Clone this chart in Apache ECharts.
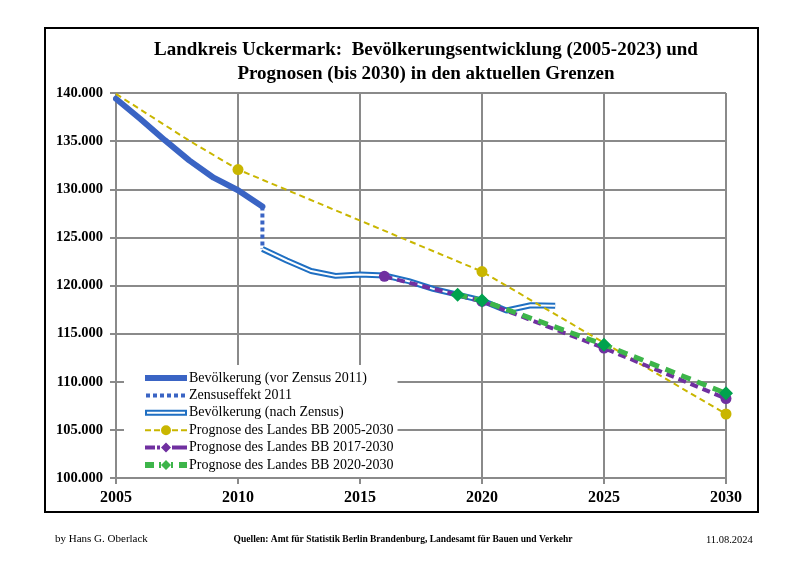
<!DOCTYPE html>
<html>
<head>
<meta charset="utf-8">
<script src="https://cdn.jsdelivr.net/npm/echarts@6/dist/echarts.min.js"></script>
<style>
html,body{margin:0;padding:0;background:#fff;}
#frame{position:absolute;left:44px;top:27px;width:711px;height:482px;border:2px solid #000;box-sizing:content-box;}
#chart{position:absolute;left:0;top:0;width:800px;height:566px;}
</style>
</head>
<body>
<div id="frame"></div>
<div id="chart"></div>
<script>
// ---- data ----
const titleLines = ["Landkreis Uckermark:  Bevölkerungsentwicklung (2005-2023) und", "Prognosen (bis 2030) in den aktuellen Grenzen"];
const seriesNames = [
  "Bevölkerung (vor Zensus 2011)",
  "Zensuseffekt 2011",
  "Bevölkerung (nach Zensus)",
  "Prognose des Landes BB 2005-2030",
  "Prognose des Landes BB 2017-2030",
  "Prognose des Landes BB 2020-2030"
];
const yearsVor = [2005, 2006, 2007, 2008, 2009, 2010, 2011];
const popVor = [139400, 137300, 135100, 133000, 131200, 129900, 128200];
const yearsZensus = [2011, 2011];
const popZensus = [128200, 123800];
const yearsNach = [2011, 2012, 2013, 2014, 2015, 2016, 2017, 2018, 2019, 2020, 2021, 2022, 2023];
const popNach = [123800, 122600, 121500, 121000, 121150, 121050, 120450, 119650, 119050, 118450, 117400, 117950, 117900];
const yearsP2005 = [2005, 2008, 2010, 2020, 2030];
const popP2005 = [139900, 135050, 132050, 121450, 106650];
const markP2005 = [false, false, true, true, true];
const yearsP2017 = [2016, 2020, 2025, 2030];
const popP2017 = [120950, 118350, 113500, 108250];
const yearsP2020 = [2019, 2020, 2025, 2030];
const popP2020 = [119050, 118440, 113850, 108800];
const yAxisMin = 100000, yAxisMax = 140000, yStep = 5000;
const xAxisMin = 2005, xAxisMax = 2030, xStep = 5;
const footerLeft = "by Hans G. Oberlack";
const footerCenter = "Quellen: Amt für Statistik Berlin Brandenburg, Landesamt für Bauen und Verkehr";
const footerRight = "11.08.2024";

const zip = (xs, ys) => xs.map((x, i) => [x, ys[i]]);
const FONT = "Liberation Serif";
const fmt = v => String(v).replace(/\B(?=(\d{3})+(?!\d))/g, ".");

const cBlue = "#3a64c4", cBlue2 = "#1f6fc2", cYellow = "#c9b600", cPurple = "#7030a0", cGreen = "#3db54a", cGreenDk = "#00a24e";

// legend icon shapes (42 wide)
const circ = (cx, cy, r) => `M${cx - r} ${cy} A${r} ${r} 0 1 0 ${cx + r} ${cy} A${r} ${r} 0 1 0 ${cx - r} ${cy} Z`;
const iconThick = "path://M0 0 H42 V6 H0 Z";
const iconDotted = "path://" + [0, 7, 14, 21, 28, 35].map(x => `M${x + 1} 0 H${x + 5} V4 H${x + 1} Z`).join(" ") + " M0 0 H0.01 V4 H0 Z M41.99 0 H42 V4 H41.99 Z";
const iconDouble = "path://M0 0 H42 V6 H0 Z M2 2 V4 H40 V2 Z";
const iconYellow = "path://M0 4 H6 V6 H0 Z M9 4 H15 V6 H9 Z M27 4 H33 V6 H27 Z M36 4 H42 V6 H36 Z " + circ(21, 5, 5);
const iconPurple = "path://M0 3 H10 V7 H0 Z M30 3 H42 V7 H30 Z M12 3 H15 V7 H12 Z M27 3 H30 V7 H27 Z M21 0 L26 5 L21 10 L16 5 Z";
const iconGreen = "path://M0 2 H9 V8 H0 Z M14 2 H16 V8 H14 Z M26 2 H28 V8 H26 Z M34 2 H42 V8 H34 Z M21 0 L26 5 L21 10 L16 5 Z";

const chart = echarts.init(document.getElementById("chart"), null, {renderer: "canvas"});
chart.setOption({
  animation: false,
  backgroundColor: "transparent",
  title: [
    {text: titleLines.join("\n"), left: 421, top: 33, textAlign: "center",
     textStyle: {fontFamily: FONT, fontWeight: "bold", fontSize: 19, lineHeight: 24, color: "#000"}},
    {text: footerLeft, left: 50, top: 529, textStyle: {fontFamily: FONT, fontWeight: "normal", fontSize: 11, color: "#000"}},
    {text: footerCenter, left: 398, top: 530, textAlign: "center", textStyle: {fontFamily: FONT, fontWeight: "bold", fontSize: 9.5, color: "#000"}},
    {text: footerRight, left: 701, top: 530, textStyle: {fontFamily: FONT, fontWeight: "normal", fontSize: 10.5, color: "#000"}}
  ],
  grid: {left: 116, top: 93, right: 74, bottom: 88, containLabel: false},
  xAxis: {
    type: "value", min: xAxisMin, max: xAxisMax, interval: xStep,
    axisLine: {show: true, lineStyle: {color: "#8a8a8a", width: 2}},
    axisTick: {show: true, length: 6, lineStyle: {color: "#8a8a8a", width: 2}},
    splitLine: {show: true, lineStyle: {color: "#8a8a8a", width: 2}},
    axisLabel: {margin: 12, fontFamily: FONT, fontWeight: "bold", fontSize: 16, color: "#000", formatter: v => String(v)}
  },
  yAxis: {
    type: "value", min: yAxisMin, max: yAxisMax, interval: yStep,
    axisLine: {show: true, lineStyle: {color: "#8a8a8a", width: 2}},
    axisTick: {show: true, length: 6, lineStyle: {color: "#8a8a8a", width: 2}},
    splitLine: {show: true, lineStyle: {color: "#8a8a8a", width: 2}},
    axisLabel: {margin: 13, fontFamily: FONT, fontWeight: "bold", fontSize: 14.5, color: "#000", formatter: v => fmt(v)}
  },
  legend: {
    orient: "vertical", left: 124, top: 365,
    padding: [6, 4, 5, 21],
    backgroundColor: "#fff",
    itemWidth: 42, itemHeight: 12, itemGap: 3.4,
    symbolKeepAspect: true,
    textStyle: {fontFamily: FONT, fontSize: 14, lineHeight: 14, color: "#000", padding: [0, 0, 0, -3]},
    data: [
      {name: seriesNames[0], icon: iconThick, itemStyle: {color: cBlue}},
      {name: seriesNames[1], icon: iconDotted, itemStyle: {color: cBlue}},
      {name: seriesNames[2], icon: iconDouble, itemStyle: {color: cBlue2}},
      {name: seriesNames[3], icon: iconYellow, itemStyle: {color: cYellow}},
      {name: seriesNames[4], icon: iconPurple, itemStyle: {color: cPurple}},
      {name: seriesNames[5], icon: iconGreen, itemStyle: {color: cGreen}}
    ]
  },
  series: [
    {name: seriesNames[0], type: "line", data: zip(yearsVor, popVor), showSymbol: false, symbol: "none",
     lineStyle: {color: cBlue, width: 6, cap: "round"}, itemStyle: {color: cBlue}, z: 2},
    {name: seriesNames[1], type: "line", data: zip(yearsZensus, popZensus), showSymbol: false, symbol: "none",
     lineStyle: {color: cBlue, width: 4, type: [4, 3]}, itemStyle: {color: cBlue}, z: 2},
    {name: seriesNames[2], type: "line", data: zip(yearsNach, popNach), showSymbol: false, symbol: "none",
     lineStyle: {color: cBlue2, width: 6}, itemStyle: {color: cBlue2}, z: 2},
    {name: "nach_inner", type: "line", data: zip(yearsNach, popNach), showSymbol: false, symbol: "none",
     lineStyle: {color: "#fff", width: 2}, itemStyle: {color: "#fff"}, z: 3, silent: true},
    {name: seriesNames[3], type: "line", z: 4,
     data: zip(yearsP2005, popP2005).map((d, i) => ({value: d, symbol: markP2005[i] ? "circle" : "none"})),
     symbol: "circle", symbolSize: 11, showAllSymbol: true,
     lineStyle: {color: cYellow, width: 2, type: [6, 4]}, itemStyle: {color: cYellow}},
    {name: seriesNames[4], type: "line", z: 5, data: zip(yearsP2017, popP2017),
     symbol: "circle", symbolSize: 11, showAllSymbol: true,
     lineStyle: {color: cPurple, width: 4, type: [8, 5]}, itemStyle: {color: cPurple}},
    {name: seriesNames[5], type: "line", z: 6, data: zip(yearsP2020, popP2020),
     symbol: "diamond", symbolSize: 14, showAllSymbol: true,
     lineStyle: {color: cGreen, width: 5, type: [10, 7]}, itemStyle: {color: cGreenDk}}
  ]
});
</script>
</body>
</html>
